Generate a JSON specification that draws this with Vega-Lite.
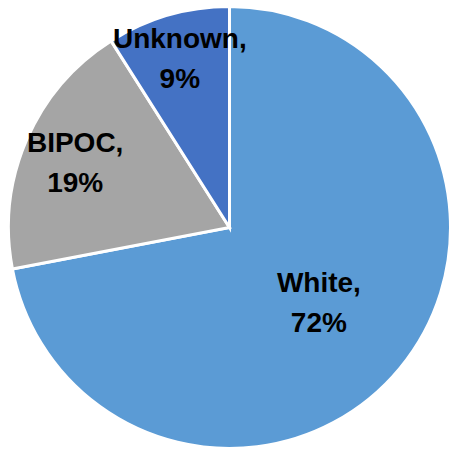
{
  "$schema": "https://vega.github.io/schema/vega-lite/v6.json",
  "width": 450,
  "height": 454,
  "autosize": {"type": "fit", "contains": "padding"},
  "padding": {"left": 9, "right": 0, "top": 1, "bottom": 0},
  "background": "white",
  "view": {"stroke": null},
  "data": {
    "values": [
      {"category": "White", "pct": 72},
      {"category": "BIPOC", "pct": 19},
      {"category": "Unknown", "pct": 9}
    ]
  },
  "transform": [
    {"calculate": "[datum.category + ',', datum.pct + '%']", "as": "label"}
  ],
  "encoding": {
    "theta": {"field": "pct", "type": "quantitative", "stack": true},
    "order": {"field": "pct", "type": "quantitative", "sort": "descending"}
  },
  "layer": [
    {
      "mark": {"type": "arc", "outerRadius": 221, "stroke": "white", "strokeWidth": 3},
      "encoding": {
        "color": {
          "field": "category",
          "type": "nominal",
          "scale": {
            "domain": ["White", "BIPOC", "Unknown"],
            "range": ["#5B9BD5", "#A5A5A5", "#4472C4"]
          },
          "legend": null
        }
      }
    },
    {
      "mark": {
        "type": "text",
        "font": "Liberation Sans",
        "fontWeight": "bold",
        "fontSize": 28,
        "lineHeight": 40,
        "align": "center",
        "baseline": "middle",
        "dy": -17,
        "color": "black"
      },
      "encoding": {
        "text": {"field": "label"},
        "radius": {
          "field": "pct",
          "type": "quantitative",
          "scale": {"type": "linear", "domain": [9, 72], "range": [178, 116], "zero": false}
        }
      }
    }
  ]
}
